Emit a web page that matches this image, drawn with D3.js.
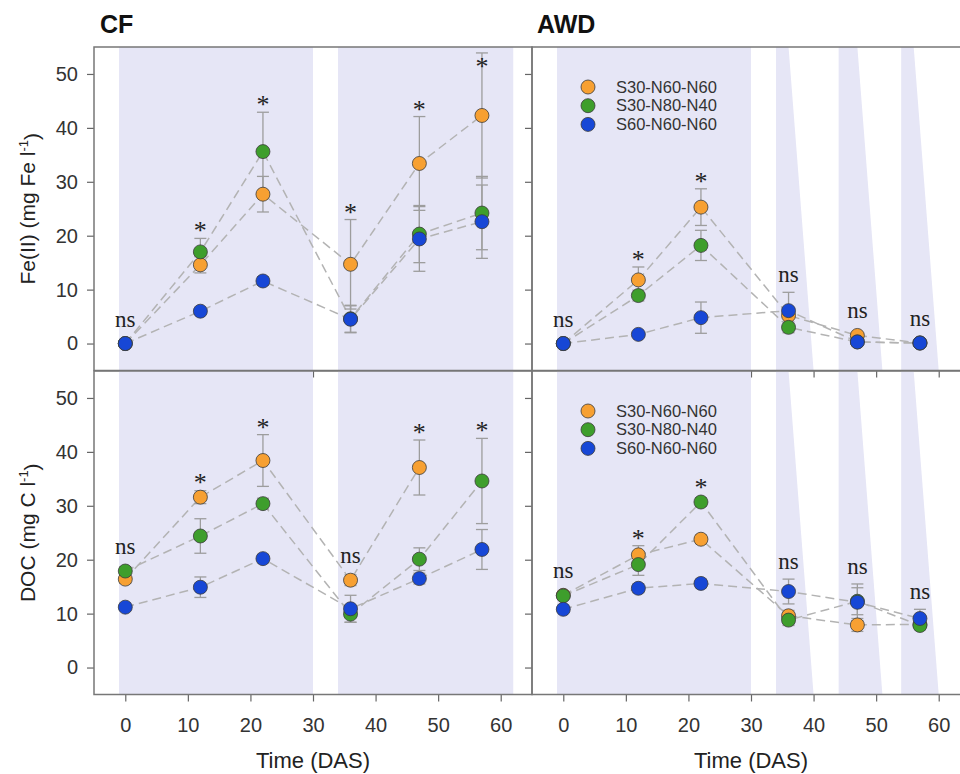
<!DOCTYPE html>
<html>
<head>
<meta charset="utf-8">
<script src="https://cdn.jsdelivr.net/npm/d3@7"></script>
<style>
    body { margin: 0; background: #fff; }
    text { font-family: "Liberation Sans", Arial, sans-serif; }
</style>
</head>
<body>
<div id="chart"></div>
<script>
// sampling dates, days after sowing
let days = [0, 12, 22, 36, 47, 57];
let treatments = ["S30-N60-N60", "S30-N80-N40", "S60-N60-N60"];

// Fe(II) (mg Fe l-1), one row per treatment
let feCF = [[0, 14.6, 27.7, 14.7, 33.4, 42.3], [0, 17.0, 35.6, 4.6, 20.3, 24.2], [0, 6.0, 11.6, 4.5, 19.4, 22.6]];
let feCFErr = [[0, 1.5, 3.3, 8.3, 8.7, 11.6], [0, 2.5, 7.3, 2.5, 5.3, 6.8], [0, 0.5, 0.8, 2.5, 6.0, 6.8]];
let feAWD = [[0, 11.8, 25.3, 5.2, 1.5, 0.1], [0, 8.9, 18.2, 3.0, 0.3, 0.1], [0, 1.7, 4.8, 6.1, 0.3, 0.1]];
let feAWDErr = [[0, 2.4, 3.4, 1.5, 0.5, 0], [0, 1.0, 2.8, 1.0, 0.3, 0], [0, 0.5, 2.9, 3.4, 0.3, 0]];

// DOC (mg C l-1)
let docCF = [[16.4, 31.6, 38.4, 16.2, 37.1, null], [17.9, 24.4, 30.4, 9.9, 20.1, 34.6], [11.2, 14.9, 20.2, 10.9, 16.5, 21.9]];
let docCFErr = [[0.8, 1.2, 4.8, 1.0, 5.1, null], [0.8, 3.2, 1.0, 1.5, 2.1, 7.9], [0.5, 1.9, 0.8, 2.5, 1.0, 3.7]];
let docAWD = [[13.4, 20.9, 23.8, 9.6, 7.9, 8.0], [13.3, 19.1, 30.7, 8.8, 12.3, 7.8], [10.8, 14.7, 15.6, 14.1, 12.1, 9.1]];
let docAWDErr = [[0.5, 1.7, 0.8, 1.0, 1.2, 0.8], [0.5, 2.0, 0.8, 1.0, 2.5, 0.8], [0.5, 0.8, 0.8, 2.3, 3.4, 1.7]];

// significance per sampling date
let sigFeCF = ["ns", "*", "*", "*", "*", "*"];
let sigFeAWD = ["ns", "*", "*", "ns", "ns", "ns"];
let sigDocCF = ["ns", "*", "*", "ns", "*", "*"];
let sigDocAWD = ["ns", "*", "*", "ns", "ns", "ns"];

// flooded periods (shaded), AWD drying periods as [start, endTop, endBottom]
let floodCF = [[-1, 30], [34, 62]];
let floodAWD = [[-1, 30]];
let dryAWD = [[34, 36, 40], [44, 47, 51], [54, 56, 60]];

let yTicks = [0, 10, 20, 30, 40, 50];
let xTicks = [0, 10, 20, 30, 40, 50, 60];

let colors = ["#f7a032", "#3e9e2c", "#1747d6"];
let shade = "#e6e6f6";

let width = 960, height = 774;
let colX = [94, 532], colW = 438;
let rowY = [47, 371], rowH = 323.5;

let svg = d3.select("#chart").append("svg")
    .attr("width", width)
    .attr("height", height);

let panels = [
    { row: 0, col: 0, mean: feCF, err: feCFErr, sig: sigFeCF, awd: false },
    { row: 0, col: 1, mean: feAWD, err: feAWDErr, sig: sigFeAWD, awd: true },
    { row: 1, col: 0, mean: docCF, err: docCFErr, sig: sigDocCF, awd: false },
    { row: 1, col: 1, mean: docAWD, err: docAWDErr, sig: sigDocAWD, awd: true }
];

panels.forEach(DrawPanel);

function DrawPanel(p, idx) {
    let x0 = colX[p.col], y0 = rowY[p.row];
    let x = d3.scaleLinear().domain([-5, 65]).range([x0, x0 + colW]);
    let y = d3.scaleLinear().domain([-5, 55]).range([y0 + rowH, y0]);
    let g = svg.append("g");

    let clipId = "clip" + idx;
    svg.append("clipPath").attr("id", clipId)
        .append("rect").attr("x", x0).attr("y", y0).attr("width", colW).attr("height", rowH);
    let bg = g.append("g").attr("clip-path", "url(#" + clipId + ")");

    //shaded flooding periods
    let flood = p.awd ? floodAWD : floodCF;
    bg.selectAll("rect.flood").data(flood).join("rect")
        .attr("class", "flood")
        .attr("x", d => x(d[0]))
        .attr("y", y0)
        .attr("width", d => x(d[1]) - x(d[0]))
        .attr("height", rowH)
        .style("fill", shade);
    if (p.awd) {
        bg.selectAll("polygon.dry").data(dryAWD).join("polygon")
            .attr("class", "dry")
            .attr("points", d => [[x(d[0]), y0], [x(d[1]), y0], [x(d[2]), y0 + rowH], [x(d[0]), y0 + rowH]].join(" "))
            .style("fill", shade);
    }

    //axes
    let yAxis = d3.axisLeft(y).tickValues(yTicks).tickSize(7).tickPadding(9)
        .tickFormat(p.col === 0 ? d3.format("d") : "");
    let xAxis = d3.axisBottom(x).tickValues(xTicks).tickSize(7).tickPadding(16)
        .tickFormat(p.row === 1 ? d3.format("d") : "");
    let ya = g.append("g").attr("transform", "translate(" + x0 + ",0)").call(yAxis);
    let xa = g.append("g").attr("transform", "translate(0," + (y0 + rowH) + ")").call(xAxis);
    [ya, xa].forEach(a => {
        a.select(".domain").remove();
        a.selectAll(".tick line").style("stroke", "#666").style("stroke-width", 1.2);
        a.selectAll(".tick text").style("font-size", "20px").style("fill", "#333")
            .style("font-family", "'Liberation Sans', Arial, sans-serif");
    });

    //frame
    g.append("rect")
        .attr("x", x0).attr("y", y0).attr("width", colW).attr("height", rowH)
        .style("fill", "none").style("stroke", "#777").style("stroke-width", 1.5);

    //dashed connecting lines
    let line = d3.line()
        .defined(d => d[1] != null)
        .x(d => x(d[0]))
        .y(d => y(d[1]));
    p.mean.forEach((series, s) => {
        g.append("path")
            .datum(days.map((t, i) => [t, series[i]]))
            .attr("d", line)
            .style("fill", "none")
            .style("stroke", "#b3b3b3")
            .style("stroke-width", 1.5)
            .style("stroke-dasharray", "9,5");
    });

    //error bars
    p.mean.forEach((series, s) => {
        let pts = days.map((t, i) => ({ t: t, v: series[i], e: p.err[s][i] })).filter(d => d.v != null && d.e > 0);
        let eb = g.append("g").style("stroke", "#9d9d9d").style("stroke-width", 1.3);
        pts.forEach(d => {
            eb.append("line").attr("x1", x(d.t)).attr("x2", x(d.t)).attr("y1", y(d.v - d.e)).attr("y2", y(d.v + d.e));
            [d.v - d.e, d.v + d.e].forEach(c => {
                eb.append("line").attr("x1", x(d.t) - 6).attr("x2", x(d.t) + 6).attr("y1", y(c)).attr("y2", y(c));
            });
        });
    });

    //points
    p.mean.forEach((series, s) => {
        g.selectAll("circle.s" + s)
            .data(days.map((t, i) => [t, series[i]]).filter(d => d[1] != null))
            .join("circle")
            .attr("class", "s" + s)
            .attr("cx", d => x(d[0]))
            .attr("cy", d => y(d[1]))
            .attr("r", 7)
            .style("fill", colors[s])
            .style("stroke", "#3b3b3b")
            .style("stroke-width", 0.8);
    });

    //significance labels, kept inside the frame
    days.forEach((t, i) => {
        let top = d3.min(p.mean.map((series, s) => {
            if (series[i] == null) return Infinity;
            return Math.min(y(series[i]) - 7, y(series[i] + (p.err[s][i] || 0)));
        }));
        let isNs = p.sig[i] === "ns";
        let ty = isNs ? top - 10 : Math.max(top + 1, y0 + 28);
        g.append("text")
            .attr("x", x(t))
            .attr("y", ty)
            .attr("text-anchor", "middle")
            .style("font-family", "'Liberation Serif', 'Times New Roman', serif")
            .style("font-size", isNs ? "23px" : "26px")
            .style("fill", "#222")
            .text(p.sig[i]);
    });

    //legend
    if (p.col === 1) {
        let lg = g.append("g").attr("transform", "translate(588," + (y0 + 40) + ")");
        treatments.forEach((name, s) => {
            let row = lg.append("g").attr("transform", "translate(0," + (s * 18.7) + ")");
            row.append("circle").attr("r", 7).style("fill", colors[s])
                .style("stroke", "#3b3b3b").style("stroke-width", 0.8);
            row.append("text").attr("x", 28).attr("dy", ".35em")
                .style("font-size", "16.5px").style("fill", "#333").text(name);
        });
    }
}

//y axis titles
function AddYTitle(row, label) {
    let cy = rowY[row] + rowH / 2;
    let t = svg.append("text")
        .attr("transform", "translate(35," + cy + ") rotate(-90)")
        .attr("text-anchor", "middle")
        .style("font-size", "21px")
        .style("fill", "#222");
    t.append("tspan").text(label);
    t.append("tspan").attr("dy", "-0.55em").style("font-size", "13px").text("-1");
    t.append("tspan").attr("dy", "0.55em").text(")");
}
AddYTitle(0, "Fe(II) (mg Fe l");
AddYTitle(1, "DOC (mg C l");

//x axis titles
colX.forEach(cx => {
    svg.append("text")
        .attr("x", cx + colW / 2)
        .attr("y", 768)
        .attr("text-anchor", "middle")
        .style("font-size", "22px")
        .style("fill", "#222")
        .text("Time (DAS)");
});

//panel titles
svg.append("text").attr("x", 100).attr("y", 33).style("font-size", "25px").style("font-weight", "bold").style("fill", "#111").text("CF");
svg.append("text").attr("x", 537).attr("y", 33).style("font-size", "25px").style("font-weight", "bold").style("fill", "#111").text("AWD");
</script>
</body>
</html>
